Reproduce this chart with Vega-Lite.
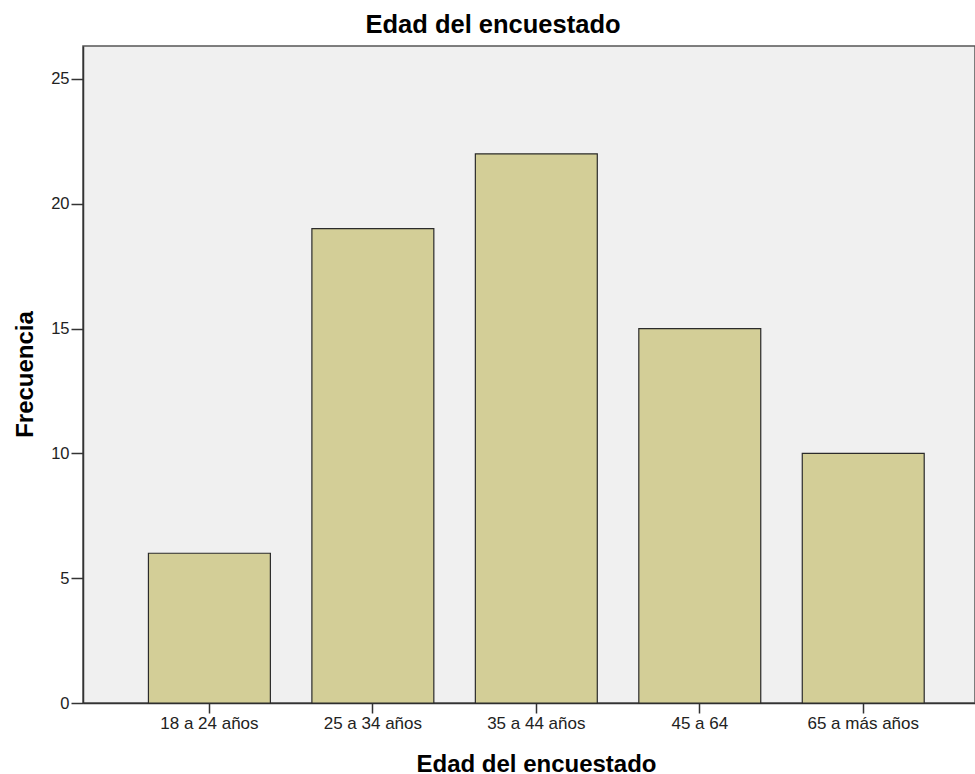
{
  "$schema": "https://vega.github.io/schema/vega-lite/v6.json",
  "autosize": {"type": "none"},
  "padding": {"left": 83, "top": 46, "right": 0, "bottom": 71},
  "width": 892,
  "height": 657,
  "background": "white",
  "title": {
    "text": "Edad del encuestado",
    "font": "Liberation Sans",
    "fontSize": 25.5,
    "fontWeight": "bold",
    "color": "#000000",
    "anchor": "middle",
    "frame": "group",
    "baseline": "alphabetic",
    "offset": 11,
    "dx": -36,
    "dy": 23
  },
  "data": {
    "values": [
      {"edad": "18 a 24 años", "frecuencia": 6},
      {"edad": "25 a 34 años", "frecuencia": 19},
      {"edad": "35 a 44 años", "frecuencia": 22},
      {"edad": "45 a 64", "frecuencia": 15},
      {"edad": "65 a más años", "frecuencia": 10}
    ]
  },
  "mark": {"type": "bar", "fill": "#d3ce97", "stroke": "#2b2b2b", "strokeWidth": 1.2},
  "encoding": {
    "x": {
      "field": "edad",
      "type": "nominal",
      "sort": null,
      "scale": {"paddingInner": 0.254, "paddingOuter": 0.3555, "align": 0.563},
      "axis": {
        "title": "Edad del encuestado",
        "titleFont": "Liberation Sans",
        "titleFontSize": 24,
        "titleFontWeight": "bold",
        "titleColor": "#000000",
        "titleX": 453,
        "titleY": 68.5,
        "titleBaseline": "alphabetic",
        "titleAlign": "center",
        "labelFont": "Liberation Sans",
        "labelFontSize": 17,
        "labelColor": "#222222",
        "labelAngle": 0,
        "labelPadding": 2,
        "tickSize": 10,
        "tickColor": "#333333",
        "tickWidth": 1.5,
        "domainColor": "#333333",
        "domainWidth": 1.5,
        "grid": false
      }
    },
    "y": {
      "field": "frecuencia",
      "type": "quantitative",
      "scale": {"domain": [0, 26.32], "nice": false, "zero": true},
      "axis": {
        "title": "Frecuencia",
        "titleFont": "Liberation Sans",
        "titleFontSize": 24,
        "titleFontWeight": "bold",
        "titleColor": "#000000",
        "titleX": -50.5,
        "titleY": 328,
        "titleBaseline": "alphabetic",
        "titleAlign": "center",
        "titleAngle": -90,
        "values": [0, 5, 10, 15, 20, 25],
        "labelFont": "Liberation Sans",
        "labelFontSize": 16.5,
        "labelColor": "#222222",
        "labelPadding": 2,
        "tickSize": 12,
        "tickColor": "#333333",
        "tickWidth": 1.5,
        "domainColor": "#333333",
        "domainWidth": 1.5,
        "grid": false
      }
    }
  },
  "config": {
    "view": {"fill": "#f0f0f0", "stroke": "#555555", "strokeWidth": 1.5}
  }
}
